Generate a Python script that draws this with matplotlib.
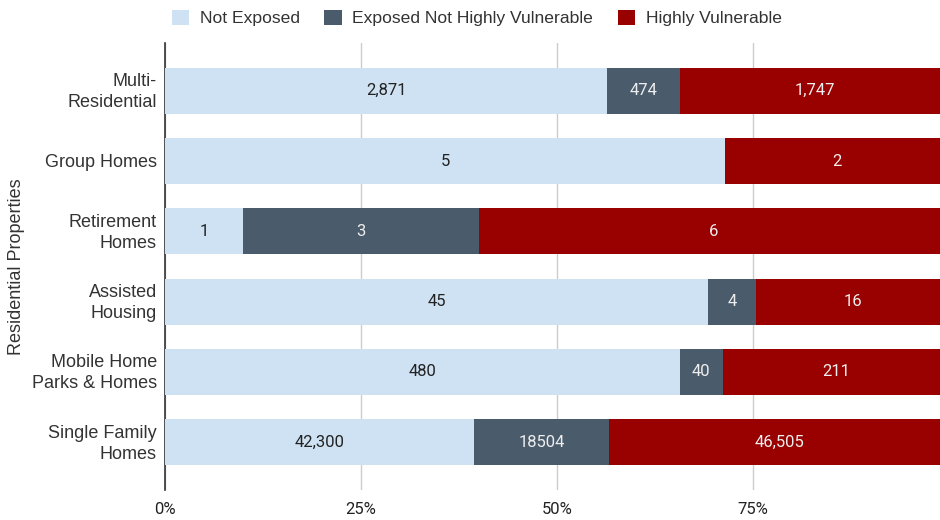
import matplotlib.pyplot as plt
import matplotlib.transforms as mtransforms
import numpy as np

plt.rcParams['font.family'] = ['Roboto', 'DejaVu Sans']
side_font = ['Liberation Sans', 'DejaVu Sans']

categories = ['Multi-\nResidential', 'Group Homes', 'Retirement\nHomes',
              'Assisted\nHousing', 'Mobile Home\nParks & Homes', 'Single Family\nHomes']
not_exposed = [2871, 5, 1, 45, 480, 42300]
exposed_not_hv = [474, 0, 3, 4, 40, 18504]
highly_vuln = [1747, 2, 6, 16, 211, 46505]
label_ne = ['2,871', '5', '1', '45', '480', '42,300']
label_en = ['474', '', '3', '4', '40', '18504']
label_hv = ['1,747', '2', '6', '16', '211', '46,505']
series_names = ['Not Exposed', 'Exposed Not Highly Vulnerable', 'Highly Vulnerable']
colors = ['#cfe2f3', '#4a5b6c', '#990000']
text_colors = ['#222222', '#eeeeee', '#eeeeee']
xticks = [0, 25, 50, 75]
xticklabels = ['0%', '25%', '50%', '75%']

fig = plt.figure(figsize=(9.4, 5.2), dpi=100)
ax = fig.add_axes([165/940, 1 - 490/520, 784/940, 447/520])

data = np.array([not_exposed, exposed_not_hv, highly_vuln], dtype=float)
totals = data.sum(axis=0)
pct = data / totals * 100
labels = [label_ne, label_en, label_hv]
y = np.arange(len(categories))

left = np.zeros(len(categories))
for i in range(3):
    bars = ax.barh(y, pct[i], left=left, height=0.655, color=colors[i],
                   label=series_names[i], zorder=3)
    for j, b in enumerate(bars):
        if labels[i][j]:
            ax.text(left[j] + pct[i][j] / 2, y[j], labels[i][j], ha='center', va='center',
                    color=text_colors[i], fontsize=12, zorder=4)
    left += pct[i]

ax.set_xlim(0, 100)
ax.set_ylim(len(categories) - 1 + 0.68, -0.68)

# category names drawn as text so two-line names sit centred on the bar
ax.set_yticks(y)
ax.set_yticklabels([])
trans = mtransforms.blended_transform_factory(ax.transAxes, ax.transData)
for yi, name in zip(y, categories):
    ax.text(-0.0105, yi + 0.02, name, transform=trans, ha='right', va='center',
            fontsize=13, color='#333333', family=side_font, linespacing=1.32)

ax.set_xticks(xticks)
ax.set_xticklabels(xticklabels, fontsize=12, color='#222222')
ax.tick_params(length=0)
ax.tick_params(axis='x', pad=9)
ax.grid(axis='x', color='#cccccc', linewidth=1, zorder=0)
for s in ['top', 'right', 'bottom']:
    ax.spines[s].set_visible(False)
ax.spines['left'].set_color('#333333')
ax.spines['left'].set_linewidth(1.2)
ax.set_ylabel('Residential Properties', fontsize=13, color='#333333', family=side_font)
ax.yaxis.set_label_coords(-0.179, 0.5)

fig.legend(loc='upper center', bbox_to_anchor=(0.507, 1.012), ncol=3, frameon=False,
           prop={'family': side_font, 'size': 12.6}, handlelength=1.0, handleheight=1.0,
           columnspacing=1.4, handletextpad=0.6, labelcolor='#333333')

fig.savefig('out.png', dpi=100)
